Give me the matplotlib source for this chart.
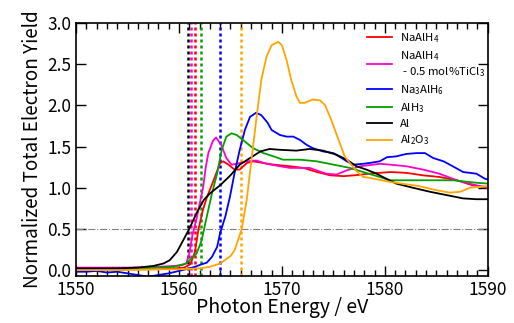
import numpy as np
import matplotlib.pyplot as plt
from matplotlib.ticker import MultipleLocator

plt.rcParams['font.family'] = ['Noto Sans CJK JP', 'DejaVu Sans']
plt.rcParams['mathtext.default'] = 'regular'

# NaAlH4 ------------------------------------------------------------
e_red = [1550, 1552, 1554, 1556, 1558, 1559.5, 1560.5, 1561.1, 1561.55, 1561.9, 1562.3,
         1562.7, 1563.3, 1564.0, 1564.3, 1564.8, 1565.4, 1565.9, 1566.6, 1567.2, 1568.2,
         1569.2, 1570.8, 1572.1, 1573.4, 1574.7, 1576.0, 1577.0, 1578.5, 1580.5, 1582.1,
         1583.7, 1585.3, 1587.0, 1588.5, 1590]
y_red = [0.0, 0.0, 0.01, 0.01, 0.01, 0.02, 0.03, 0.07, 0.22, 0.5, 0.72,
         0.88, 1.07, 1.30, 1.32, 1.28, 1.22, 1.22, 1.30, 1.32, 1.30,
         1.28, 1.26, 1.24, 1.19, 1.15, 1.14, 1.15, 1.17, 1.19, 1.18,
         1.15, 1.13, 1.09, 1.03, 1.0]

# NaAlH4 - 0.5 mol% TiCl3 ------------------------------------------
e_mag = [1550, 1555, 1558, 1559.5, 1560.3, 1560.7, 1561.0, 1561.3, 1561.7, 1562.0, 1562.35,
         1562.6, 1562.85, 1563.3, 1563.6, 1564.1, 1564.6, 1565.1, 1565.6, 1566.6, 1567.5,
         1568.5, 1569.8, 1570.8, 1572.7, 1574.3, 1575.3, 1576.3, 1577.6, 1579.5, 1580.5,
         1582.1, 1583.7, 1585.3, 1587.0, 1588.5, 1590]
y_mag = [0.03, 0.03, 0.04, 0.05, 0.06, 0.08, 0.2, 0.42, 0.62, 0.8, 1.01,
         1.25, 1.42, 1.57, 1.61, 1.52, 1.36, 1.28, 1.29, 1.32, 1.33,
         1.29, 1.26, 1.24, 1.24, 1.17, 1.16, 1.21, 1.26, 1.29, 1.28,
         1.26, 1.22, 1.17, 1.09, 1.04, 1.0]

# Na3AlH6 -----------------------------------------------------------
e_blue = [1550, 1551, 1552, 1553, 1554, 1555, 1556, 1557, 1558, 1559, 1560, 1561, 1561.55,
          1562.2, 1562.7, 1563.2, 1563.7, 1564.0, 1564.5, 1564.95, 1565.4, 1565.9, 1566.4,
          1566.9, 1567.5, 1568.0, 1568.6, 1569.0, 1569.8, 1570.45, 1571.1, 1571.75, 1572.4,
          1573.0, 1574.0, 1575.0, 1575.8, 1576.3, 1576.9, 1577.9, 1578.5, 1579.5, 1580.2,
          1581.1, 1582.1, 1583.1, 1583.9, 1584.7, 1585.7, 1586.6, 1587.6, 1588.9, 1589.7, 1590]
y_blue = [-0.02, -0.02, -0.01, -0.03, -0.02, -0.04, -0.06, -0.08, -0.06, -0.04, -0.01, 0.02, 0.04,
          0.07, 0.09, 0.16, 0.28, 0.45, 0.65, 0.89, 1.18, 1.46, 1.70,
          1.86, 1.91, 1.88, 1.79, 1.70, 1.64, 1.62, 1.62, 1.58, 1.52,
          1.48, 1.44, 1.42, 1.36, 1.32, 1.28, 1.29, 1.30, 1.32, 1.37,
          1.38, 1.41, 1.42, 1.42, 1.36, 1.32, 1.26, 1.19, 1.17, 1.11, 1.10]

# AlH3 --------------------------------------------------------------
e_green = [1550, 1555, 1558, 1559.5, 1560.7, 1561.7, 1562.2, 1562.7, 1563.2, 1563.7, 1564.15,
           1564.6, 1565.1, 1565.6, 1566.2, 1567.2, 1568.2, 1569.2, 1570.1, 1571.75, 1573.4,
           1575.0, 1576.6, 1577.9, 1579.5, 1580.5, 1583.4, 1586.6, 1588.9, 1590]
y_green = [0.01, 0.02, 0.03, 0.04, 0.08, 0.2, 0.36, 0.65, 0.93, 1.17, 1.46,
           1.62, 1.66, 1.64, 1.58, 1.48, 1.42, 1.38, 1.34, 1.34, 1.32,
           1.28, 1.24, 1.19, 1.13, 1.09, 1.09, 1.09, 1.06, 1.05]

# Al ----------------------------------------------------------------
e_al = [1550, 1554, 1556, 1557.5, 1558.5, 1559.1, 1559.8, 1560.4, 1561.0, 1561.7, 1562.4,
        1563.0, 1564.0, 1565.0, 1565.9, 1566.9, 1567.9, 1568.8, 1569.8, 1571.4, 1572.7,
        1574.0, 1575.3, 1576.3, 1577.25, 1578.2, 1579.2, 1579.8, 1581.1, 1582.7, 1584.4,
        1586.0, 1587.6, 1588.9, 1590]
y_al = [0.02, 0.02, 0.03, 0.05, 0.08, 0.12, 0.22, 0.36, 0.5, 0.69, 0.85,
        0.93, 1.03, 1.15, 1.28, 1.36, 1.44, 1.47, 1.46, 1.45, 1.47,
        1.45, 1.40, 1.34, 1.26, 1.22, 1.17, 1.13, 1.05, 1.0, 0.95,
        0.91, 0.87, 0.86, 0.86]

# Al2O3 -------------------------------------------------------------
e_ox = [1550, 1555, 1558, 1560, 1562, 1563, 1564.0, 1565.0, 1565.4, 1566.1, 1566.6,
        1567.06, 1567.5, 1568.0, 1568.5, 1569.0, 1569.64, 1570.0, 1570.45, 1570.9, 1571.4,
        1571.75, 1572.2, 1573.0, 1573.7, 1574.2, 1574.8, 1575.5, 1576.1, 1576.6, 1577.25,
        1577.9, 1578.5, 1580.5, 1583.3, 1585.0, 1586.3, 1587.3, 1588.3, 1589.2, 1590]
y_ox = [0.0, 0.0, 0.01, 0.01, 0.02, 0.04, 0.08, 0.17, 0.24, 0.5, 0.87,
        1.36, 1.82, 2.31, 2.59, 2.73, 2.77, 2.73, 2.55, 2.31, 2.11,
        2.03, 2.03, 2.07, 2.06, 2.0, 1.82, 1.58, 1.38, 1.30, 1.20,
        1.13, 1.12, 1.07, 1.02, 0.97, 0.94, 0.95, 1.0, 1.01, 1.02]

# edge positions (dotted lines) -------------------------------------
edges = [1560.9, 1561.2, 1561.6, 1562.1, 1564.0, 1566.0]
edge_colors = ['black', '#ff00cc', 'red', '#00a000', 'blue', 'orange']

fig = plt.figure(figsize=(5.14, 3.23), dpi=100)
ax = fig.add_axes([0.148, 0.146, 0.801, 0.783])

for x, c in zip(edges, edge_colors):
    ax.axvline(x, color=c, lw=1.8, linestyle=(0, (1.2, 1.2)))
ax.axhline(0.5, color='gray', lw=0.8, linestyle='-.')

ax.plot(e_red, y_red, color='red', lw=1.3, label='NaAlH$_4$')
ax.plot(e_mag, y_mag, color='#ff00cc', lw=1.3, label='NaAlH$_4$\n - 0.5 mol%TiCl$_3$')
ax.plot(e_blue, y_blue, color='blue', lw=1.3, label='Na$_3$AlH$_6$')
ax.plot(e_green, y_green, color='#00a000', lw=1.3, label='AlH$_3$')
ax.plot(e_al, y_al, color='black', lw=1.3, label='Al')
ax.plot(e_ox, y_ox, color='orange', lw=1.3, label='Al$_2$O$_3$')

ax.set_xlim(1550, 1590)
ax.set_ylim(-0.07, 3.0)
ax.xaxis.set_major_locator(MultipleLocator(10))
ax.xaxis.set_minor_locator(MultipleLocator(1))
ax.yaxis.set_major_locator(MultipleLocator(0.5))
ax.tick_params(which='both', direction='in', top=True, right=True, labelsize=12.5)
ax.tick_params(which='major', length=7, width=1)
ax.tick_params(which='minor', length=4, width=1)
for s in ax.spines.values():
    s.set_linewidth(1.2)

ax.set_xlabel('Photon Energy / eV', fontsize=14, labelpad=-1)
ax.set_ylabel('Normalized Total Electron Yield', fontsize=13.6, labelpad=3)

ax.legend(loc='upper right', bbox_to_anchor=(1.01, 0.995), frameon=False, fontsize=8.2,
          handlelength=2.2, handletextpad=0.7, labelspacing=0.38, borderaxespad=0.2)

fig.savefig('out.png', dpi=100)
